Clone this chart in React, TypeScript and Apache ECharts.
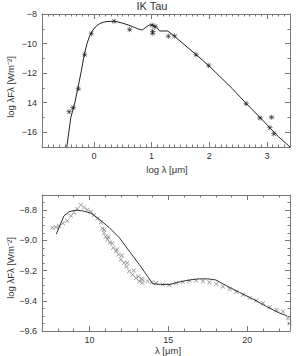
import React, { useEffect, useRef } from "react";
import * as echarts from "echarts";

// ---- Top panel: SED (log lambda [um], log lambda F_lambda [W m^-2]) ----
const sedModel: [number, number][] = [
  [-0.47, -17.0], [-0.4, -15.0], [-0.33, -14.0], [-0.28, -13.05], [-0.22, -11.9],
  [-0.17, -10.8], [-0.12, -10.0], [-0.07, -9.45], [-0.02, -9.1], [0.04, -8.82],
  [0.1, -8.65], [0.18, -8.54], [0.28, -8.5], [0.36, -8.49], [0.5, -8.62],
  [0.6, -8.75], [0.7, -8.9], [0.78, -9.03], [0.84, -9.08], [0.9, -8.9],
  [0.96, -8.74], [1.02, -8.73], [1.08, -8.86], [1.14, -9.15], [1.28, -9.15],
  [1.4, -9.52], [1.77, -10.74], [1.99, -11.49], [2.4, -13.05], [2.64, -14.05],
  [2.88, -15.0], [3.05, -15.7], [3.2, -16.3], [3.4, -17.0],
];
const sedObs: [number, number][] = [
  [-0.43, -14.62], [-0.36, -14.32], [-0.27, -13.04], [-0.16, -10.74], [-0.045, -9.32],
  [0.35, -8.49], [0.62, -9.05], [1.01, -8.76], [1.06, -8.85], [1.02, -9.17],
  [1.02, -9.3], [1.29, -9.51], [1.4, -9.49], [1.77, -10.74], [1.99, -11.49],
  [2.64, -14.05], [2.88, -15.03], [3.05, -15.7], [3.08, -14.98], [3.12, -16.1],
];
const topXTicks = [0, 1, 2, 3];
const topYTicks = [-16, -14, -12, -10, -8];
const topYLabels: Record<string, string> = { "-16": "\u221216", "-14": "14", "-12": "\u221212", "-10": "\u221210", "-8": "\u22128" };

// ---- Bottom panel: spectrum (lambda [um], log lambda F_lambda) ----
const specModel: [number, number][] = [
  [7.9, -8.96], [8.12, -8.905], [8.39, -8.838], [8.71, -8.811], [9.14, -8.8],
  [9.56, -8.805], [10.09, -8.82], [10.62, -8.86], [11.25, -8.915], [11.89, -8.982],
  [12.52, -9.071], [13.16, -9.16], [13.68, -9.238], [14.0, -9.287], [14.5, -9.292],
  [15.1, -9.292], [15.5, -9.28], [15.91, -9.271], [16.5, -9.26], [16.97, -9.255],
  [17.5, -9.255], [18.0, -9.262], [18.67, -9.3], [19.51, -9.345], [20.36, -9.389],
  [21.21, -9.438], [22.05, -9.482], [22.5, -9.5],
];
const specObs: [number, number][] = [
  [7.66, -8.917], [7.88, -8.913], [8.08, -8.905], [8.33, -8.887], [8.6, -8.871],
  [8.82, -8.838], [9.03, -8.815], [9.24, -8.793], [9.45, -8.767], [9.66, -8.782],
  [9.87, -8.798], [10.09, -8.811], [10.3, -8.833], [10.51, -8.855], [10.72, -8.882],
  [10.83, -8.922], [10.93, -8.949], [11.03, -8.975], [11.14, -8.993], [11.3, -9.015],
  [11.51, -9.049], [11.68, -9.071], [11.84, -9.093], [11.99, -9.127], [12.2, -9.149],
  [12.35, -9.175], [12.52, -9.205], [12.73, -9.227], [12.95, -9.249], [13.16, -9.271],
  [13.35, -9.28], [13.37, -9.26], [13.68, -9.27], [13.96, -9.275], [14.22, -9.282],
  [14.64, -9.293], [15.06, -9.295], [15.49, -9.282], [15.91, -9.275], [16.33, -9.267],
  [16.76, -9.265], [17.18, -9.271], [17.6, -9.278], [18.03, -9.289], [18.45, -9.305],
  [18.88, -9.322], [19.3, -9.342], [19.72, -9.36], [20.15, -9.382], [20.57, -9.398],
  [20.99, -9.415], [21.42, -9.442], [21.84, -9.46], [22.26, -9.471], [22.58, -9.515],
  [22.68, -9.55],
  [10.95, -8.93], [11.2, -8.98], [11.45, -9.02], [11.75, -9.06], [12.05, -9.1],
  [12.4, -9.15], [12.8, -9.2], [13.1, -9.24], [13.3, -9.255],
];
const botXTicks = [10, 15, 20];
const botYTicks = [-9.6, -9.4, -9.2, -9.0, -8.8];

const ASTERISK =
  "path://M0 4.5H10V5.5H0Z M4.5 0H5.5V10H4.5Z M0.9 1.6L1.6 0.9L9.1 8.4L8.4 9.1Z M8.4 0.9L9.1 1.6L1.6 9.1L0.9 8.4Z";
const CROSS = "path://M0.8 1.7L1.7 0.8L9.2 8.3L8.3 9.2Z M8.3 0.8L9.2 1.7L1.7 9.2L0.8 8.3Z";

const AXIS_COLOR = "#777";
const LABEL_COLOR = "#333";
const FONT = "Liberation Sans";

function makeAxes(
  dim: "x" | "y",
  gridIndex: number,
  min: number,
  max: number,
  majors: number[],
  minorInterval: number,
  fmt: (v: number) => string
) {
  const posMain = dim === "x" ? "bottom" : "left";
  const posOther = dim === "x" ? "top" : "right";
  const base = {
    type: "value",
    gridIndex,
    min,
    max,
    splitLine: { show: false },
    silent: true,
  };
  const line = { show: true, onZero: false, lineStyle: { color: AXIS_COLOR, width: 1 } };
  const noLine = { show: false, onZero: false };
  return [
    {
      ...base,
      position: posMain,
      axisLine: line,
      axisTick: { show: true, inside: true, length: 5, customValues: majors, lineStyle: { color: AXIS_COLOR } },
      axisLabel: {
        show: true,
        customValues: majors,
        formatter: (v: number) => fmt(v),
        margin: dim === "x" ? 4 : 5,
        color: LABEL_COLOR,
        fontSize: 9,
        fontFamily: FONT,
      },
    },
    {
      ...base,
      position: posMain,
      interval: minorInterval,
      axisLine: noLine,
      axisTick: { show: true, inside: true, length: 2.5, lineStyle: { color: AXIS_COLOR } },
      axisLabel: { show: false },
    },
    {
      ...base,
      position: posOther,
      axisLine: line,
      axisTick: { show: true, inside: true, length: 5, customValues: majors, lineStyle: { color: AXIS_COLOR } },
      axisLabel: { show: false },
    },
    {
      ...base,
      position: posOther,
      interval: minorInterval,
      axisLine: noLine,
      axisTick: { show: true, inside: true, length: 2.5, lineStyle: { color: AXIS_COLOR } },
      axisLabel: { show: false },
    },
  ];
}

const minus = (s: string) => s.replace("-", "\u2212");

export default function App() {
  const ref = useRef<HTMLDivElement>(null);
  useEffect(() => {
    if (!ref.current) return;
    const chart = echarts.init(ref.current, undefined, { renderer: "svg" });
    const xAxes = [
      ...makeAxes("x", 0, -0.9, 3.4, topXTicks, 0.1, (v) => String(Math.round(v))),
      ...makeAxes("x", 1, 7, 22.7, botXTicks, 1, (v) => String(Math.round(v))),
    ];
    const yAxes = [
      ...makeAxes("y", 0, -17, -8, topYTicks, 1, (v) => topYLabels[String(Math.round(v))] ?? minus(String(v))),
      ...makeAxes("y", 1, -9.6, -8.7, botYTicks, 0.05, (v) => minus(v.toFixed(1))),
    ];
    const textStyle = (text: string, size = 10) => ({
      text,
      fill: LABEL_COLOR,
      fontSize: size,
      fontFamily: FONT,
      align: "center",
      verticalAlign: "middle",
    });
    chart.setOption({
      animation: false,
      backgroundColor: "#fff",
      grid: [
        { left: 42, top: 14, width: 248, height: 133 },
        { left: 42, top: 195, width: 248, height: 136 },
      ],
      xAxis: xAxes,
      yAxis: yAxes,
      graphic: [
        { type: "text", x: 152, y: 6, style: textStyle("IK Tau", 11) },
        { type: "text", x: 167, y: 169, style: textStyle("log \u03bb [\u03bcm]", 9.5) },
        { type: "text", x: 168, y: 350, style: textStyle("\u03bb [\u03bcm]", 9.5) },
        { type: "text", x: 10, y: 87, rotation: Math.PI / 2, style: textStyle("log \u03bbF\u03bb [Wm\u207b\u00b2]", 9.5) },
        { type: "text", x: 10, y: 268, rotation: Math.PI / 2, style: textStyle("log \u03bbF\u03bb [Wm\u207b\u00b2]", 9.5) },
      ],
      series: [
        {
          type: "line",
          xAxisIndex: 0,
          yAxisIndex: 0,
          data: sedModel,
          showSymbol: false,
          symbol: "none",
          lineStyle: { color: "#222", width: 1 },
          clip: true,
          silent: true,
        },
        {
          type: "scatter",
          xAxisIndex: 0,
          yAxisIndex: 0,
          data: sedObs,
          symbol: ASTERISK,
          symbolSize: 5.5,
          itemStyle: { color: "#111" },
          silent: true,
        },
        {
          type: "scatter",
          xAxisIndex: 4,
          yAxisIndex: 4,
          data: specObs,
          symbol: CROSS,
          symbolSize: 4.5,
          itemStyle: { color: "#777" },
          silent: true,
        },
        {
          type: "line",
          xAxisIndex: 4,
          yAxisIndex: 4,
          data: specModel,
          showSymbol: false,
          symbol: "none",
          lineStyle: { color: "#333", width: 1 },
          clip: true,
          silent: true,
        },
      ],
    });
    return () => chart.dispose();
  }, []);
  return (
    <div
      ref={ref}
      style={{ position: "absolute", left: 0, top: 0, width: 296, height: 356, background: "#fff" }}
    />
  );
}
